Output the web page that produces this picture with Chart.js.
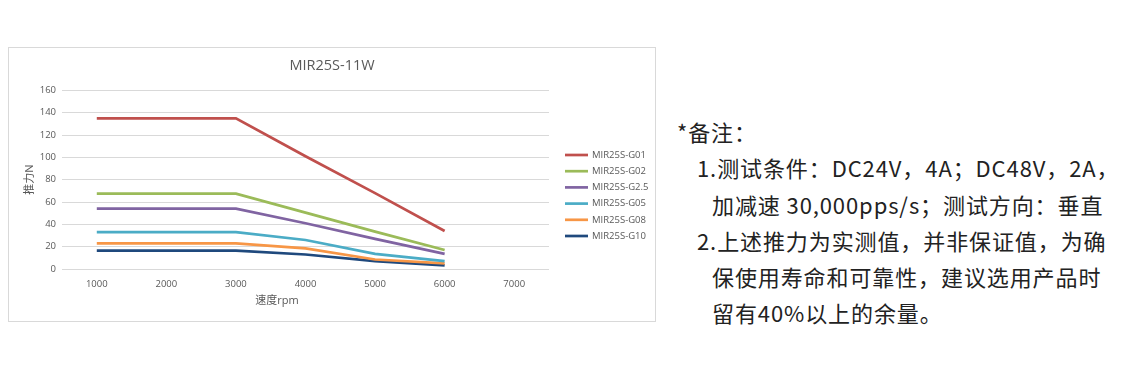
<!DOCTYPE html>
<html>
<head>
<meta charset="utf-8">
<script src="https://cdn.jsdelivr.net/npm/chart.js@4.4.1/dist/chart.umd.min.js"></script>
<style>
  html, body { margin: 0; padding: 0; background: #fff; }
  body { width: 1131px; height: 374px; position: relative; overflow: hidden; }
  #box { position: absolute; left: 8px; top: 47px; width: 646px; height: 273px; border: 1px solid #d9d9d9; }
  #box canvas { display: block; }
  #notes { position: absolute; left: 677px; top: 113px; font-family: "Noto Sans CJK SC", sans-serif; font-size: 22px; line-height: 36.3px; color: #222; letter-spacing: 0.9px; white-space: nowrap; }
  #notes .l1 { padding-left: 20px; }
  #notes .l2 { padding-left: 35px; }
</style>
</head>
<body>
<div id="box"><canvas id="chart" width="646" height="273"></canvas></div>
<div id="notes">
  <div>*备注：</div>
  <div class="l1">1.测试条件：DC24V，4A；DC48V，2A，</div>
  <div class="l2">加减速 30,000pps/s；测试方向：垂直</div>
  <div class="l1">2.上述推力为实测值，并非保证值，为确</div>
  <div class="l2">保使用寿命和可靠性，建议选用产品时</div>
  <div class="l2">留有40%以上的余量。</div>
</div>
<script>
// chart data
const speeds = ['1000', '2000', '3000', '4000', '5000', '6000', '7000'];
const seriesNames = ['MIR25S-G01', 'MIR25S-G02', 'MIR25S-G2.5', 'MIR25S-G05', 'MIR25S-G08', 'MIR25S-G10'];
const g01 = [135, 135, 135, 101, 68, 34, null];
const g02 = [67.5, 67.5, 67.5, 50.5, 33.5, 17, null];
const g25 = [54, 54, 54, 41, 27, 13.5, null];
const g05 = [33, 33, 33, 26, 13.5, 7, null];
const g08 = [23, 23, 23, 18.5, 8.5, 5, null];
const g10 = [16.5, 16.5, 16.5, 13, 7, 3.2, null];
const seriesColors = ['#c0504d', '#9bbb59', '#8064a2', '#4bacc6', '#f79646', '#1f497d'];
const xTitle = '速度rpm';

const allSeries = [g01, g02, g25, g05, g08, g10];
const datasets = allSeries.map((vals, i) => ({
    label: seriesNames[i],
    data: vals,
    borderColor: seriesColors[i],
    backgroundColor: seriesColors[i],
    borderWidth: 2.7,
    pointRadius: 0,
    tension: 0,
    spanGaps: false
}));

const chartFont = '"Open Sans", "Noto Sans CJK SC", sans-serif';
const textGray = '#595959';

// legend and x title drawn by hand so they sit where Excel put them
const sideLegend = {
    id: 'sideLegend',
    afterDraw(chart) {
        const ctx = chart.ctx;
        const x0 = 556, y0 = 107, step = 16.2;
        ctx.save();
        ctx.font = '9.5px ' + chartFont;
        ctx.textBaseline = 'middle';
        ctx.fillStyle = textGray;
        chart.data.datasets.forEach((ds, i) => {
            const y = y0 + i * step;
            ctx.strokeStyle = ds.borderColor;
            ctx.lineWidth = 2.7;
            ctx.beginPath();
            ctx.moveTo(x0, y);
            ctx.lineTo(x0 + 23, y);
            ctx.stroke();
            ctx.fillText(ds.label, x0 + 27, y);
        });
        // axis title, a bit left of the plot centre like the original
        ctx.font = '11px ' + chartFont;
        ctx.textAlign = 'center';
        ctx.fillText(xTitle, 268, 253);
        ctx.restore();
    }
};

new Chart(document.getElementById('chart').getContext('2d'), {
    type: 'line',
    data: { labels: speeds, datasets: datasets },
    options: {
        responsive: false,
        animation: false,
        layout: { padding: 0 },
        plugins: {
            legend: { display: false },
            tooltip: { enabled: false },
            title: {
                display: true,
                text: 'MIR25S-11W',
                color: textGray,
                font: { family: chartFont, size: 14.5, weight: 'normal' },
                padding: { top: 9, bottom: 16 }
            }
        },
        scales: {
            x: {
                offset: true,
                grid: { display: false, drawTicks: false },
                border: { display: false },
                ticks: { color: textGray, font: { family: chartFont, size: 9.5 }, padding: 10, maxRotation: 0 },
                afterFit: (scale) => { scale.height = 52; }
            },
            y: {
                min: 0,
                max: 160,
                ticks: { stepSize: 20, color: textGray, font: { family: chartFont, size: 9.5 }, padding: 6 },
                grid: { color: '#d9d9d9', drawTicks: false },
                border: { display: false },
                title: { display: true, text: '推力N', color: textGray, font: { family: chartFont, size: 11 }, padding: { top: 14, bottom: 0 } },
                afterFit: (scale) => { scale.width = 53; }
            },
            // empty right-hand axis that only keeps room for the legend
            side: {
                position: 'right',
                display: true,
                grid: { display: false, drawTicks: false },
                border: { display: false },
                ticks: { display: false },
                afterFit: (scale) => { scale.width = 106; }
            }
        }
    },
    plugins: [sideLegend]
});
</script>
</body>
</html>
